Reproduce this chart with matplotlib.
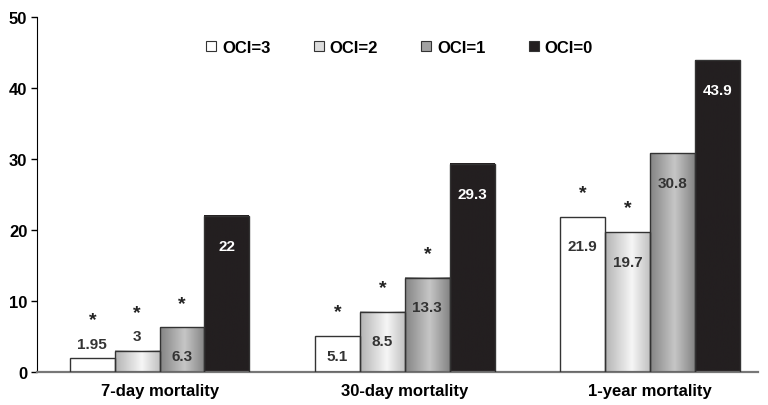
import numpy as np
import matplotlib.pyplot as plt
from matplotlib.colors import LinearSegmentedColormap
from matplotlib.patches import Patch

plt.rcParams["font.family"] = ["Liberation Sans", "DejaVu Sans"]
plt.rcParams["font.weight"] = "bold"

categories = ["7-day mortality", "30-day mortality", "1-year mortality"]
series = ["OCI=3", "OCI=2", "OCI=1", "OCI=0"]
values = {
    "OCI=3": [1.95, 5.1, 21.9],
    "OCI=2": [3, 8.5, 19.7],
    "OCI=1": [6.3, 13.3, 30.8],
    "OCI=0": [22, 29.3, 43.9],
}
labels = {
    "OCI=3": ["1.95", "5.1", "21.9"],
    "OCI=2": ["3", "8.5", "19.7"],
    "OCI=1": ["6.3", "13.3", "30.8"],
    "OCI=0": ["22", "29.3", "43.9"],
}
# significance stars vs. OCI=0
signif = {
    "OCI=3": [True, True, True],
    "OCI=2": [True, True, True],
    "OCI=1": [True, True, False],
    "OCI=0": [False, False, False],
}

black = "#231f20"
fills = {
    "OCI=3": LinearSegmentedColormap.from_list("w", ["#ffffff", "#ffffff"]),
    "OCI=2": LinearSegmentedColormap.from_list(
        "lg", [(0, "#b4b4b4"), (0.6, "#f6f6f6"), (1, "#c2c2c2")]
    ),
    "OCI=1": LinearSegmentedColormap.from_list(
        "g", [(0, "#858585"), (0.55, "#c6c6c6"), (1, "#858585")]
    ),
    "OCI=0": LinearSegmentedColormap.from_list("k", [black, black]),
}
legend_colors = {"OCI=3": "white", "OCI=2": "#dcdcdc", "OCI=1": "#a2a2a2", "OCI=0": black}

fig = plt.figure(figsize=(7.68, 4.06), dpi=100)
ax = fig.add_axes([37 / 768, 33 / 406, 721 / 768, 355 / 406])

x = np.arange(len(categories))
w = 0.183
grad = np.linspace(0, 1, 64).reshape(1, -1)

for i, s in enumerate(series):
    pos = x + (i - 1.5) * w
    bars = ax.bar(pos, values[s], w, facecolor="none", edgecolor="#333333",
                  lw=1.0, zorder=3)
    for b, v, lab, star in zip(bars, values[s], labels[s], signif[s]):
        x0 = b.get_x()
        ax.imshow(grad, cmap=fills[s], aspect="auto", zorder=2,
                  extent=(x0, x0 + w, 0, v))
        cx = x0 + w / 2
        if v < 5:
            ly = v + 2.0
            ax.text(cx, ly, lab, ha="center", va="center", fontsize=11,
                    color="#333333", zorder=4)
            sy = ly + 3.4
        else:
            ly = max(v - 4.2, 2.3)
            col = "white" if s == "OCI=0" else "#333333"
            ax.text(cx, ly, lab, ha="center", va="center", fontsize=11,
                    color=col, zorder=4)
            sy = v + 3.4
        if star:
            ax.text(cx, sy, "*", ha="center", va="center", fontsize=14,
                    color="#222222", zorder=4)

ax.set_xlim(-0.5, 2.44)
ax.set_ylim(0, 50)
ax.set_yticks(range(0, 51, 10))
ax.set_xticks(x)
ax.set_xticklabels(categories, fontsize=12)
ax.tick_params(axis="x", length=0, pad=8)
ax.tick_params(axis="y", direction="out", length=4, width=1, labelsize=12, pad=3)

for side in ["top", "right"]:
    ax.spines[side].set_visible(False)
ax.spines["left"].set_color("black")
ax.spines["bottom"].set_color("#777777")
ax.spines["bottom"].set_linewidth(1.6)

handles = [Patch(facecolor=legend_colors[s], edgecolor="#333333", lw=0.8) for s in series]
ax.legend(handles, series, loc="center", bbox_to_anchor=(0.503, 0.915), ncol=4,
          frameon=False, fontsize=12, handlelength=0.6, handleheight=0.6,
          handletextpad=0.35, columnspacing=2.6)

fig.savefig("out.png", dpi=100)
